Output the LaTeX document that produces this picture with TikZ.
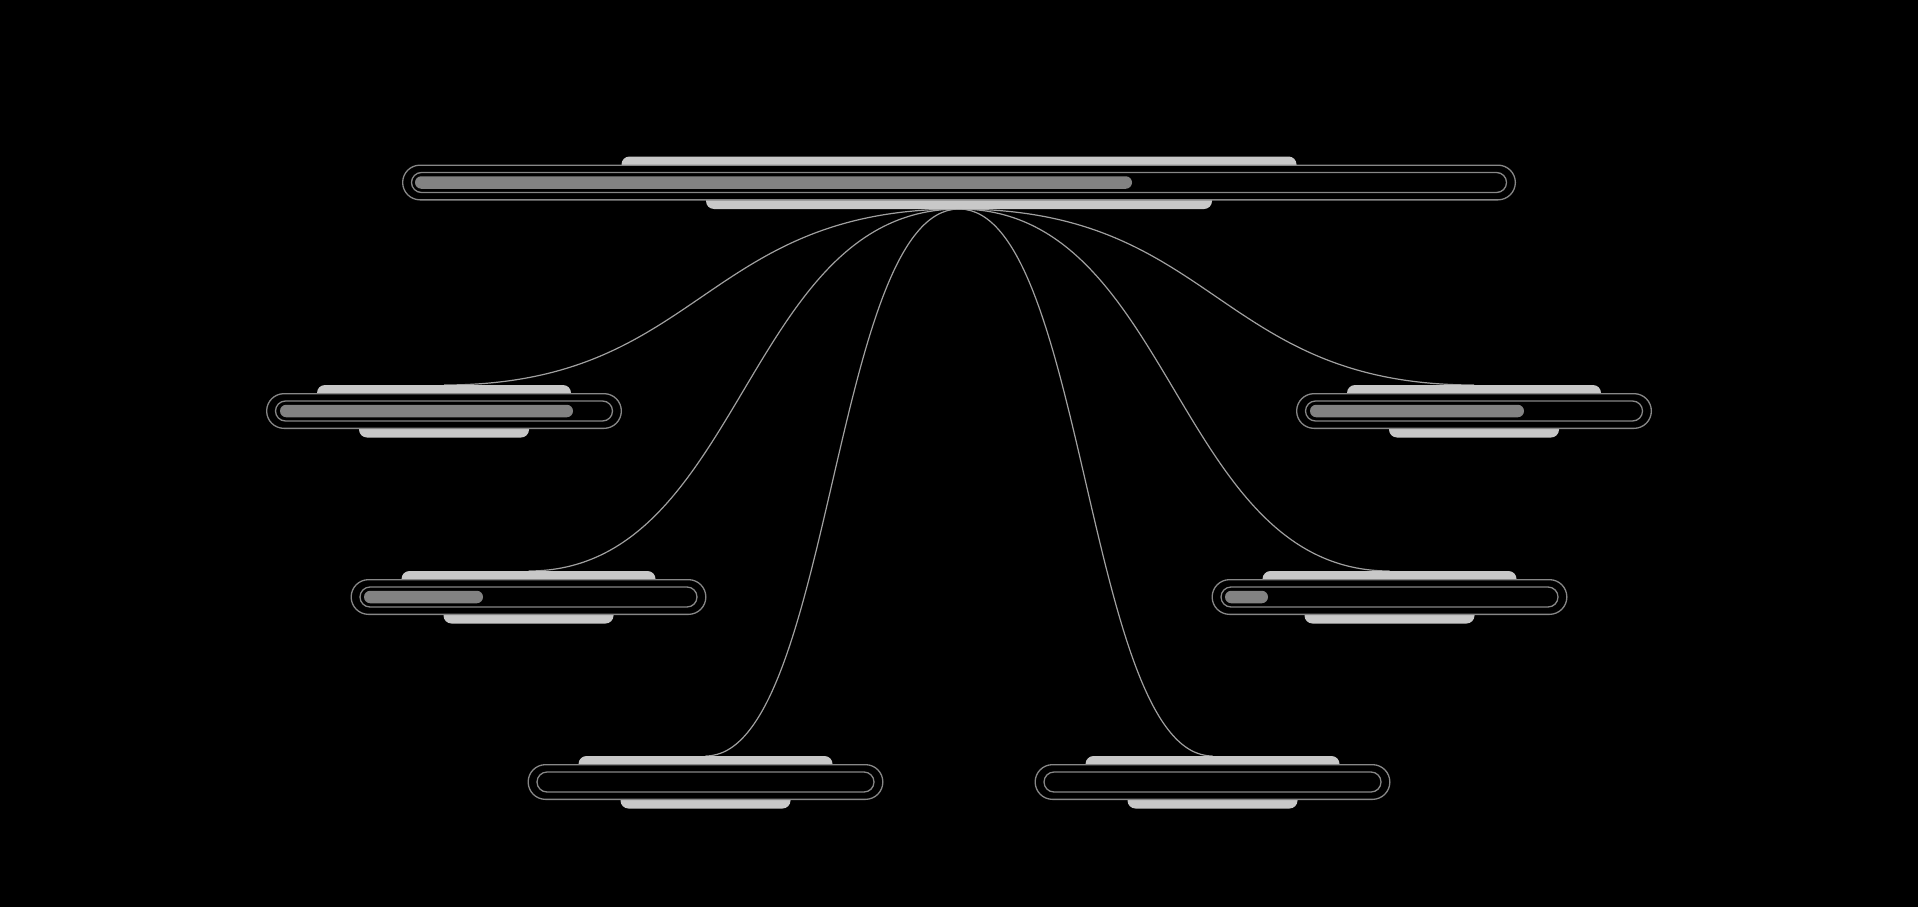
\documentclass[tikz,border=0pt]{standalone}
\usetikzlibrary{calc,shapes.misc}
\definecolor{tabc}{RGB}{200,200,200}
\definecolor{fillc}{RGB}{130,130,130}
\definecolor{ringc}{RGB}{135,135,135}
\definecolor{linkc}{RGB}{160,160,160}
\begin{document}
\begin{tikzpicture}[x=1pt,y=-1pt,
  tabbox/.style={rectangle,fill=tabc,draw=none,inner sep=0pt,outer sep=0pt,minimum height=24pt,rounded corners=8pt},
  outerring/.style={rounded rectangle,draw=ringc,fill=black,line width=1.3pt,inner sep=0pt,outer sep=0pt,minimum height=34.7pt},
  innerring/.style={rounded rectangle,draw=ringc,fill=black,line width=1.3pt,inner sep=0pt,outer sep=0pt,minimum height=20pt},
  fillbar/.style={rounded rectangle,fill=fillc,draw=none,inner sep=0pt,outer sep=0pt,minimum height=12.5pt,anchor=west},
  link/.style={draw=linkc,line width=1.2pt}]
\fill[black] (0,0) rectangle (1918,907);
\useasboundingbox (0,0) rectangle (1918,907);
% bar macro: name, cx, cy, width, top tab width, bottom tab width
\newcommand{\mkbar}[6]{%
  \node[tabbox,minimum width=#5,anchor=north] (#1-tt) at (#2,#3-26) {};
  \node[tabbox,minimum width=#6,anchor=south] (#1-bt) at (#2,#3+26.5) {};
  \node[outerring,minimum width=#4-1.3] (#1) at (#2,#3) {};
  \node[innerring,minimum width=#4-19] (#1-in) at (#2,#3) {};
}
% connectors (drawn first)
\coordinate (Ts) at (959,209);
\foreach \cx/\cy in {444/385, 1474/385, 528.5/571, 1389.5/571, 705.5/756, 1212.5/756}{
  \coordinate (e) at (\cx,\cy);
  \coordinate (m) at ($(Ts)!0.5!(e)$);
  \draw[link] (Ts) .. controls (m |- Ts) and (m |- e) .. (e);
}
\mkbar{T}{959}{182.5}{1114}{675}{506}
\node[fillbar,minimum width=717] (T-f) at (415,182.5) {};
\mkbar{L1}{444}{411}{356}{254}{170}
\node[fillbar,minimum width=293] (L1-f) at (280,411) {};
\mkbar{R1}{1474}{411}{356}{254}{170}
\node[fillbar,minimum width=214] (R1-f) at (1310,411) {};
\mkbar{L2}{528.5}{597}{356}{254}{170}
\node[fillbar,minimum width=119] (L2-f) at (364,597) {};
\mkbar{R2}{1389.5}{597}{356}{254}{170}
\node[fillbar,minimum width=43] (R2-f) at (1225,597) {};
\mkbar{L3}{705.5}{782}{356}{254}{170}
\mkbar{R3}{1212.5}{782}{356}{254}{170}
\end{tikzpicture}
\end{document}
